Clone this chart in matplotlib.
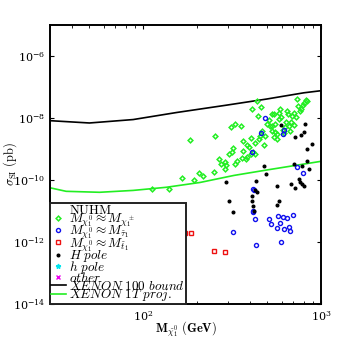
import matplotlib
matplotlib.use("Agg")
import matplotlib.pyplot as plt
from matplotlib.lines import Line2D
from matplotlib.ticker import LogLocator, NullLocator

plt.rcParams['mathtext.fontset'] = 'cm'
plt.rcParams['font.family'] = 'serif'

# XENON lines
x100 = [30, 50, 88, 154, 295, 496, 800, 1000]
y100 = [8.2e-9, 6.9e-9, 8.9e-9, 1.5e-8, 2.6e-8, 4.1e-8, 6.5e-8, 7.6e-8]
x1t = [30, 37, 57, 88, 135, 209, 324, 496, 1000]
y1t = [5.6e-11, 4.3e-11, 4.0e-11, 4.6e-11, 5.8e-11, 8.3e-11, 1.4e-10, 2.1e-10, 4.0e-10]

# chargino coannihilation (green)
chi_x = [113, 140, 166, 183, 194, 206, 218, 249, 255, 266, 275, 290, 292, 290, 305, 311,
         314, 322, 327, 329, 336, 357, 359, 363, 379, 386, 396, 403, 403, 410, 413, 424,
         426, 436, 445, 450, 455, 462, 465, 475, 485, 496, 507, 518, 530, 530, 541, 546,
         553, 553, 565, 577, 584, 590, 594, 608, 616, 629, 637, 643, 654, 660, 671, 677,
         688, 701, 707, 726, 732, 742, 757, 774, 790, 804, 823, 837, 527, 565, 366, 383]
chi_y = [5.1e-11, 5.1e-11, 1.15e-10, 1.95e-9, 1.0e-10, 1.7e-10, 1.3e-10, 1.8e-10, 2.7e-9,
         4.6e-10, 3.3e-10, 2.2e-10, 3.0e-10, 3.7e-10, 6.8e-10, 5.0e-9, 7.8e-10, 1.1e-9,
         6.4e-9, 3.2e-10, 4.2e-10, 5.4e-9, 5.2e-10, 1.8e-9, 4.8e-10, 1.3e-9, 1.2e-9,
         6.8e-10, 2.3e-9, 2.0e-8, 7.8e-10, 6.8e-10, 1.55e-9, 3.6e-8, 1.2e-8, 2.1e-9,
         2.7e-9, 2.3e-8, 3.9e-9, 1.3e-9, 2.6e-9, 6.4e-9, 8.7e-9, 5.4e-9, 5.6e-9, 3.8e-9,
         2.4e-9, 1.35e-8, 6.4e-9, 3.5e-9, 3.0e-9, 1.5e-8, 9.3e-9, 1.95e-8, 1.05e-8,
         4.2e-9, 3.3e-9, 5.2e-9, 7.6e-9, 1.7e-8, 1.35e-8, 5.6e-9, 3.9e-9, 7.6e-9, 1.2e-8,
         5.9e-9, 1.5e-8, 1.05e-8, 4.1e-8, 2.5e-8, 1.7e-8, 2.0e-8, 2.6e-8, 3.0e-8, 3.9e-8,
         3.6e-8, 1.35e-8, 2.1e-9, 8.9e-10, 5.4e-10]

# stau coannihilation (blue)
stau_x = [485, 462, 408, 612, 620, 732, 790, 413, 420, 413, 416, 426, 319, 507, 522, 565,
          572, 590, 612, 620, 643, 663, 665, 695, 432, 594]
stau_y = [9.8e-9, 3.2e-9, 7.8e-10, 3.0e-9, 4.1e-9, 2.7e-10, 1.65e-10, 5.1e-11, 4.9e-11,
          9.8e-12, 9.1e-12, 5.5e-12, 2.1e-12, 5.5e-12, 3.8e-12, 2.8e-12, 6.8e-12, 4.1e-12,
          6.3e-12, 2.6e-12, 5.8e-12, 3.1e-12, 2.3e-12, 7.4e-12, 8.1e-13, 9.8e-13]

# stop coannihilation (red)
stop_x = [167, 172, 187, 250, 290]
stop_y = [1.45e-12, 1.9e-12, 1.9e-12, 5.0e-13, 4.7e-13]

# H pole (black)
hp_x = [291, 303, 320, 432, 426, 436, 411, 408, 413, 420, 480, 488, 565, 577, 563, 594,
        716, 774, 798, 808, 890, 834, 834, 855, 701, 780, 677, 712, 748, 764, 780, 798]
hp_y = [8.3e-11, 2.1e-11, 9.5e-12, 9.5e-11, 4.6e-11, 4.0e-11, 3.1e-11, 2.1e-11, 1.4e-11,
        1.0e-11, 2.9e-10, 1.6e-10, 6.3e-11, 2.1e-11, 1.5e-11, 6.0e-9, 2.4e-9, 2.9e-9,
        3.5e-9, 6.4e-9, 1.45e-9, 1.0e-9, 4.2e-10, 2.2e-10, 3.2e-10, 2.9e-10, 7.4e-11,
        5.6e-11, 1.07e-10, 8.3e-11, 7.4e-11, 6.3e-11]

green = '#22ee22'
fig = plt.figure(figsize=(3.54, 3.43), dpi=100)
ax = fig.add_axes([0.141, 0.114, 0.766, 0.813])

ax.plot(x100, y100, color='black', lw=1.2)
ax.plot(x1t, y1t, color=green, lw=1.2)

ax.plot(chi_x, chi_y, 'D', ms=2.4, mfc='none', mec=green, mew=1.1, ls='none')
ax.plot(stau_x, stau_y, 'o', ms=2.9, mfc='none', mec='#1010ee', mew=1.0, ls='none')
ax.plot(stop_x, stop_y, 's', ms=2.7, mfc='none', mec='#ee1111', mew=1.0, ls='none')
ax.plot(hp_x, hp_y, 'o', ms=1.9, color='black', ls='none')

ax.set_xscale('log')
ax.set_yscale('log')
ax.set_xlim(30, 1000)
ax.set_ylim(1e-14, 1e-5)
ax.yaxis.set_major_locator(LogLocator(base=100))
ax.yaxis.set_minor_locator(NullLocator())
ax.tick_params(which='both', direction='in', top=True, right=True, labelsize=8)
ax.tick_params(which='major', length=3)
ax.tick_params(which='minor', length=2)
for s in ax.spines.values():
    s.set_linewidth(1.4)

ax.set_xlabel(r'$\mathbf{M}_{\tilde{\chi}_1^0}\ \mathbf{(GeV)}$', fontsize=9)
ax.xaxis.set_label_coords(0.5, -0.055)
ax.set_ylabel(r'$\sigma_{\rm SI}\ \rm (pb)$', fontsize=9)
ax.yaxis.set_label_coords(-0.115, 0.5)

handles = [
    Line2D([], [], ls='none'),
    Line2D([], [], marker='D', ms=2.4, mfc='none', mec=green, mew=1.1, ls='none'),
    Line2D([], [], marker='o', ms=2.9, mfc='none', mec='#1010ee', mew=1.0, ls='none'),
    Line2D([], [], marker='s', ms=2.7, mfc='none', mec='#ee1111', mew=1.0, ls='none'),
    Line2D([], [], marker='o', ms=1.9, color='black', ls='none'),
    Line2D([], [], marker='*', ms=3.5, color='#00e5ee', ls='none'),
    Line2D([], [], marker='x', ms=2.5, mew=1.0, color='#ee00ee', ls='none'),
    Line2D([], [], color='black', lw=1.2),
    Line2D([], [], color=green, lw=1.2),
]
labels = [
    r'$\rm NUHM$',
    r'$M_{\chi_1^0}\approx M_{\chi_1^\pm}$',
    r'$M_{\chi_1^0}\approx M_{\tilde{\tau}_1}$',
    r'$M_{\chi_1^0}\approx M_{\tilde{t}_1}$',
    r'$H\ pole$',
    r'$h\ pole$',
    r'$other$',
    r'$XENON\ 100\ bound$',
    r'$XENON\ 1T\ proj.$',
]
leg = ax.legend(handles, labels, loc='lower left', fontsize=9.5, borderaxespad=0,
                borderpad=0.05, labelspacing=-0.4, handlelength=1.2, handletextpad=0.2,
                fancybox=False, framealpha=1, edgecolor='#222222')
leg.get_frame().set_linewidth(1.4)

fig.savefig('out.png', dpi=100)
